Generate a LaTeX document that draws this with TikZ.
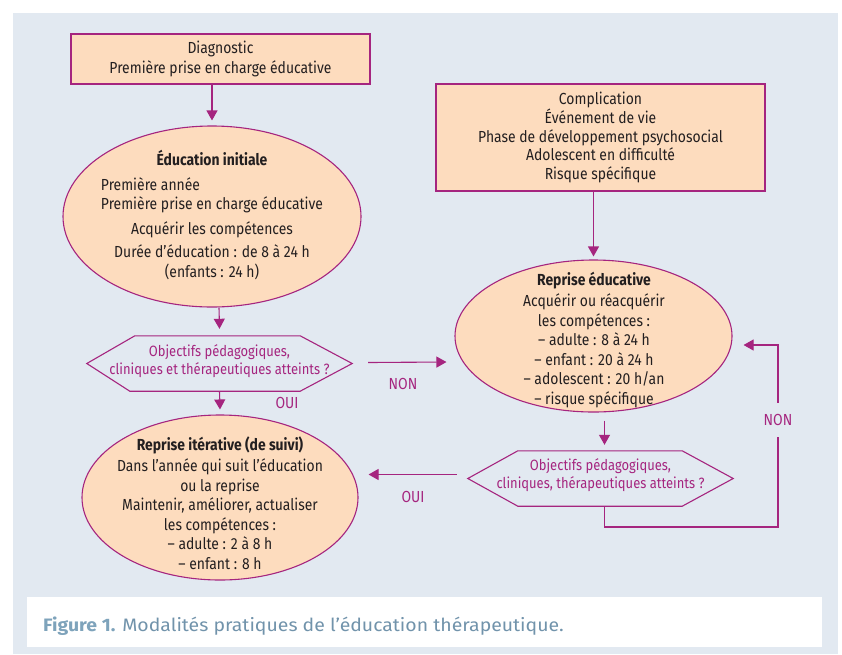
\documentclass[tikz,border=0pt]{standalone}
\usepackage{fontspec}
\setmainfont[FakeStretch=0.87]{Fira Sans}
\newfontfamily\capfont[FakeStretch=1.08]{Fira Sans}
\usepackage{calc}
\usetikzlibrary{arrows.meta,calc,shapes.geometric}
\definecolor{panel}{HTML}{E2E9F1}
\definecolor{peach}{HTML}{FDDCBE}
\definecolor{mag}{HTML}{A5257F}
\definecolor{ink}{HTML}{231F20}
\definecolor{capblue}{HTML}{7EA3BB}
\definecolor{capgray}{HTML}{7193AB}
\newcommand\dfs{\fontsize{16}{19.5}\selectfont}
\tikzset{
  box/.style={draw=mag, fill=peach, line width=1.1pt, inner sep=0pt, align=center, text=ink, font=\dfs},
  ell/.style={ellipse, draw=mag, fill=peach, line width=1.1pt, inner sep=0pt},
  txt/.style={align=center, text=ink, font=\dfs, inner sep=0pt},
  hexbox/.style={inner sep=0pt, minimum width=265pt, minimum height=55pt},
  htxt/.style={align=center, text=mag, font=\fontsize{14.9}{18.5}\selectfont, inner sep=0pt},
  mline/.style={draw=mag, line width=1.1pt},
  arr/.style={draw=mag, line width=1.1pt, -{Triangle[length=10pt,width=11pt]}},
  lab/.style={text=mag, font=\dfs, inner sep=0pt}
}
\begin{document}
\begin{tikzpicture}[x=1pt,y=-1pt]
\useasboundingbox (0,0) rectangle (842,654);
\fill[white] (0,0) rectangle (842,654);
\fill[panel] (13,13) rectangle (838,654);
\fill[white] (27,597) rectangle (822,647);

% top boxes
\node[box, minimum width=299pt, minimum height=50pt] (diag) at (220.5,59) {Diagnostic\\Première prise en charge éducative};
\node[box, minimum width=329pt, minimum height=107pt, font=\fontsize{16}{18.8}\selectfont] (comp) at (600.5,137.5)
  {Complication\\Événement de vie\\Phase de développement psychosocial\\Adolescent en difficulté\\Risque spécifique};

% ellipses
\node[ell, minimum width=298pt, minimum height=181pt] (ei) at (212,216.5) {};
\node[txt] (eit) at (212,215) {{\bfseries Éducation initiale}\\[5pt]
  \makebox[\widthof{Première prise en charge éducative}][l]{Première année}\\
  Première prise en charge éducative\\[5pt]
  Acquérir les compétences\\[4pt]
  Durée d’éducation : de 8 à 24 h\\
  (enfants : 24 h)};

\node[ell, minimum width=277pt, minimum height=152pt] (re) at (593.5,336) {};
\node[txt] (ret) at (594,340) {{\bfseries Reprise éducative}\\[2pt]
  Acquérir ou réacquérir\\ les compétences :\\ – adulte : 8 à 24 h\\ – enfant : 20 à 24 h\\
  – adolescent : 20 h/an\\ – risque spécifique};

\node[ell, minimum width=276pt, minimum height=165pt] (ri) at (220,497.5) {};
\node[txt] (rit) at (220,503) {{\bfseries Reprise itérative (de suivi)}\\[2pt]
  Dans l’année qui suit l’éducation\\ ou la reprise\\ Maintenir, améliorer, actualiser\\
  les compétences :\\ – adulte : 2 à 8 h\\ – enfant : 8 h};

% hexagons
\node[hexbox] (h1) at (219.5,363.5) {};
\node[htxt] (h1t) at (219.5,361) {Objectifs pédagogiques,\\cliniques et thérapeutiques atteints ?};
\draw[mline] (h1.west) -- ($(h1.north west)+(48,0)$) -- ($(h1.north east)+(-52,0)$) -- (h1.east)
  -- ($(h1.south east)+(-52,0)$) -- ($(h1.south west)+(43,0)$) -- cycle;

\node[hexbox] (h2) at (600.5,478.5) {};
\node[htxt] (h2t) at (600.5,475) {Objectifs pédagogiques,\\cliniques, thérapeutiques atteints ?};
\draw[mline] (h2.west) -- ($(h2.north west)+(50,0)$) -- ($(h2.north east)+(-51,0)$) -- (h2.east)
  -- ($(h2.south east)+(-51,0)$) -- ($(h2.south west)+(50,0)$) -- cycle;

% connectors
\draw[arr, shorten >=5pt] (diag.south -| ei.north) -- (ei.north);
\draw[arr] ($(ei.south)+(7,0)$) -- ($(h1.north)+(0,-7)$);
\draw[arr] (h1.south) -- ($(ri.north)+(0,-5)$);
\draw[arr] ($(h1.east)+(16,-1)$) -- ($(re.west)+(-8,26)$);
\node[lab] (non1) at (403,384) {NON};
\node[lab] (oui1) at (287,403) {OUI};
\draw[arr] (comp.south -| re.north) -- ($(re.north)+(0,-3)$);
\draw[arr] ($(re.south)+(11,8)$) -- ($(h2.north)+(4,-6)$);
\coordinate (lc) at (778,527);
\draw[arr] ($(h2.south)+(4,0)$) |- (lc) |- ($(re.east)+(11,9)$);
\node[lab, fill=panel, minimum height=34pt, inner xsep=3pt] (non2) at (778,420) {NON};
\draw[arr] ($(h2.west)+(-11,-4)$) -- ($(ri.east)+(10,-23)$);
\node[lab] (oui2) at (413,497) {OUI};

% caption
\node[anchor=west, inner sep=0pt, font=\capfont\fontsize{18}{20}\selectfont] (cap) at (43,626)
  {\textcolor{capblue}{\bfseries Figure 1.} \textcolor{capgray}{Modalités pratiques de l’éducation thérapeutique.}};
\end{tikzpicture}
\end{document}
